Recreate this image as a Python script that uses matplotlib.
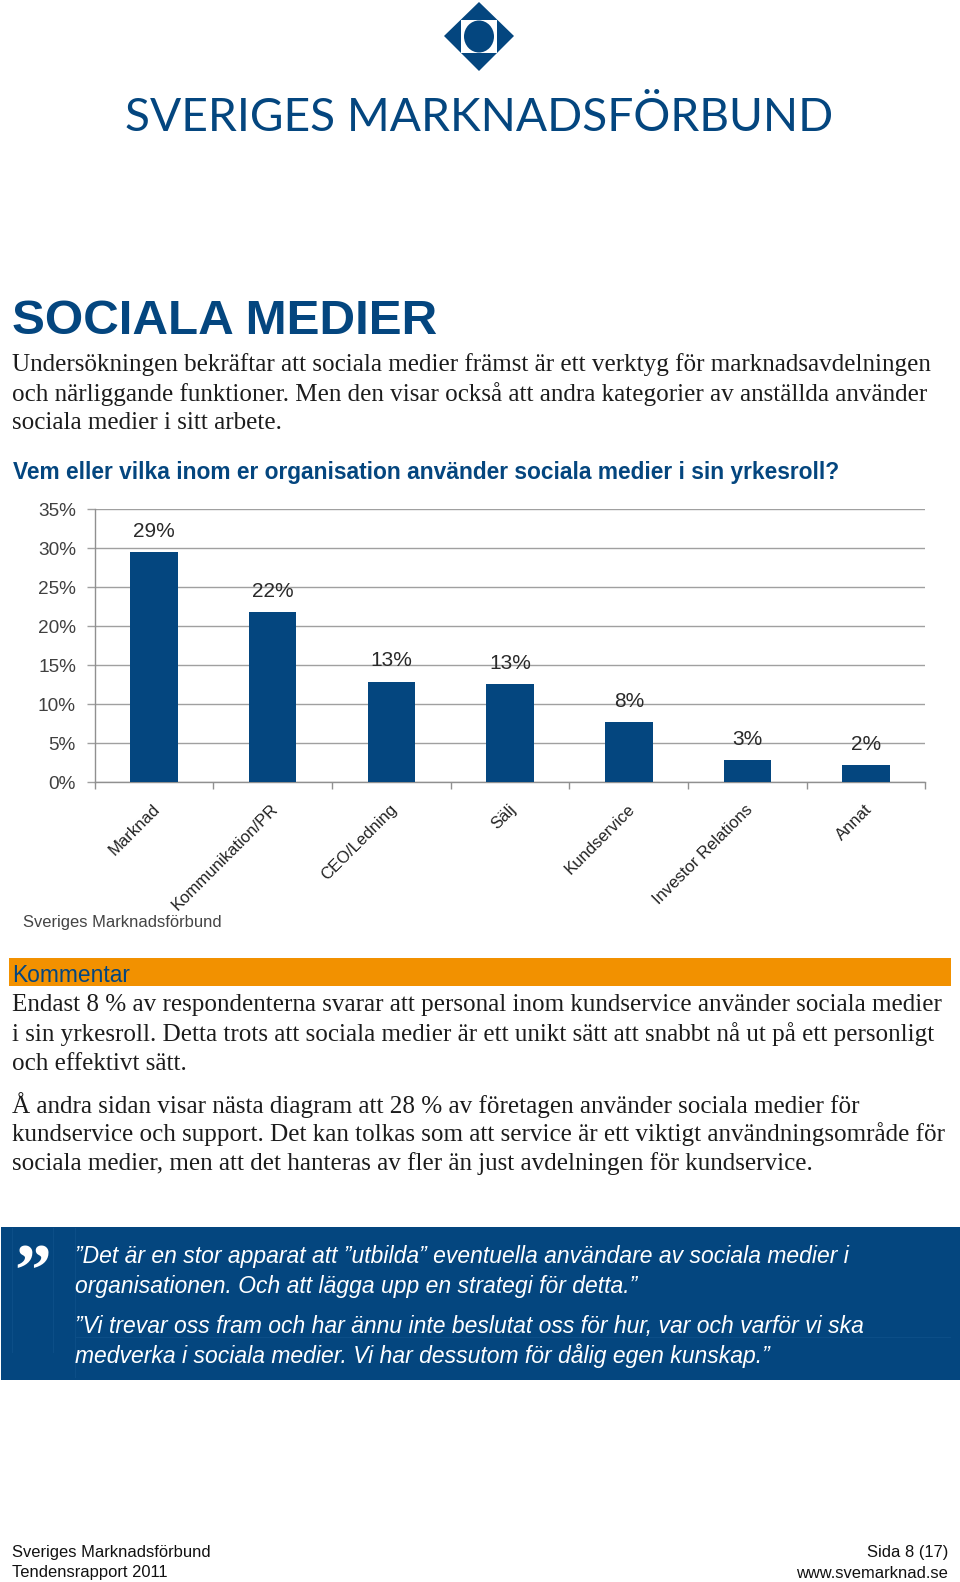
import matplotlib
matplotlib.use("Agg")
import matplotlib.pyplot as plt
from matplotlib.patches import Polygon, Rectangle, Ellipse
from matplotlib.transforms import ScaledTranslation

categories = ["Marknad", "Kommunikation/PR", "CEO/Ledning", "Sälj", "Kundservice", "Investor Relations", "Annat"]
values = [29.5, 21.8, 12.9, 12.6, 7.7, 2.9, 2.2]
value_labels = ["29%", "22%", "13%", "13%", "8%", "3%", "2%"]
y_ticks = [0, 5, 10, 15, 20, 25, 30, 35]
y_tick_labels = ["0%", "5%", "10%", "15%", "20%", "25%", "30%", "35%"]
body_top = ["Undersökningen bekräftar att sociala medier främst är ett verktyg för marknadsavdelningen",
            "och närliggande funktioner. Men den visar också att andra kategorier av anställda använder",
            "sociala medier i sitt arbete."]
comment = ["Endast 8 % av respondenterna svarar att personal inom kundservice använder sociala medier",
           "i sin yrkesroll. Detta trots att sociala medier är ett unikt sätt att snabbt nå ut på ett personligt",
           "och effektivt sätt.",
           "Å andra sidan visar nästa diagram att 28 % av företagen använder sociala medier för",
           "kundservice och support. Det kan tolkas som att service är ett viktigt användningsområde för",
           "sociala medier, men att det hanteras av fler än just avdelningen för kundservice."]
quotes = ["”Det är en stor apparat att ”utbilda” eventuella användare av sociala medier i",
          "organisationen. Och att lägga upp en strategi för detta.”",
          "”Vi trevar oss fram och har ännu inte beslutat oss för hur, var och varför vi ska",
          "medverka i sociala medier. Vi har dessutom för dålig egen kunskap.”"]

BLUE = "#04467F"
W, H = 960, 1582
fig = plt.figure(figsize=(W / 100, H / 100), dpi=100, facecolor="white")

pg = fig.add_axes([0, 0, 1, 1], zorder=0)
pg.set_xlim(0, W); pg.set_ylim(H, 0); pg.axis("off")

# logo
pg.add_patch(Polygon([(479, 2), (514, 36), (479, 71), (444, 36)], color=BLUE, lw=0))
pg.add_patch(Rectangle((461, 20), 36, 33, fc="white", lw=0))
pg.add_patch(Ellipse((479, 36.5), 30, 32, fc=BLUE, lw=0))
pg.text(479.5, 118, "SVERIGES MARKNADSFÖRBUND", family="Lato", fontsize=33.2,
        color=BLUE, ha="center", va="center")

pg.text(12, 321, "SOCIALA MEDIER", family="Liberation Sans", weight="bold", fontsize=35.6,
        color=BLUE, ha="left", va="center")
for y, s in zip([365, 394, 423], body_top):
    pg.text(12.5, y, s, family="Liberation Serif", fontsize=18.13, color="#1c1c1c", ha="left", va="center")
pg.text(13, 473, "Vem eller vilka inom er organisation använder sociala medier i sin yrkesroll?",
        family="Liberation Sans", weight="bold", fontsize=16.4, color=BLUE, ha="left", va="center")

# comment
pg.add_patch(Rectangle((9, 958), 942, 28, fc="#F29100", lw=0))
pg.text(12, 976, "Kommentar", family="Liberation Sans", fontsize=16.4, color=BLUE, ha="left", va="center")
for y, s in zip([1005.5, 1034, 1063.5, 1105.5, 1134, 1163.5], comment):
    pg.text(12.5, y, s, family="Liberation Serif", fontsize=18.13, color="#1c1c1c", ha="left", va="center")

# quote box
pg.add_patch(Rectangle((1, 1227), 959, 153, fc=BLUE, lw=0))
for x in (12, 53, 75):
    pg.plot([x, x], [1228, 1352 if x < 75 else 1377], color="#0C4E87", lw=0.8)
pg.plot([75, 950], [1337, 1337], color="#0C4E87", lw=0.8)
pg.text(33, 1277, "”", family="Liberation Serif", weight="bold", fontsize=53, color="white",
        ha="center", va="center")
for y, s in zip([1257, 1286, 1327, 1356], quotes):
    pg.text(75, y, s, family="Liberation Sans", style="italic", fontsize=16.5, color="white",
            ha="left", va="center")

# footer
pg.text(12, 1553, "Sveriges Marknadsförbund", family="Liberation Sans", fontsize=11.85, color="#111111", va="center")
pg.text(12, 1573, "Tendensrapport 2011", family="Liberation Sans", fontsize=11.85, color="#111111", va="center")
pg.text(948, 1553, "Sida 8 (17)", family="Liberation Sans", fontsize=11.85, color="#111111", ha="right", va="center")
pg.text(948, 1573, "www.svemarknad.se", family="Liberation Sans", fontsize=11.85, color="#111111", ha="right", va="center")
pg.text(23, 922, "Sveriges Marknadsförbund", family="Liberation Sans", fontsize=11.9, color="#444444", va="center")

# chart
left, right, top, bottom = 94.7, 925.5, 509, 782.3
ax = fig.add_axes([left / W, 1 - bottom / H, (right - left) / W, (bottom - top) / H], zorder=2)
ax.patch.set_alpha(0)
x = list(range(len(categories)))
ax.set_xlim(-0.5, len(categories) - 0.5)
ax.set_ylim(0, 35)
ax.bar(x, values, width=0.4, color=BLUE, zorder=3)
ax.set_axisbelow(True)
ax.yaxis.grid(True, color="#A0A0A0", lw=1)
for s in ("top", "right"):
    ax.spines[s].set_visible(False)
for s in ("left", "bottom"):
    ax.spines[s].set_color("#909090")
    ax.spines[s].set_linewidth(1)
ax.set_yticks(y_ticks)
ax.set_yticklabels(y_tick_labels, family="Liberation Sans", fontsize=13.7, color="#404040")
ax.tick_params(axis="y", length=6, width=1, color="#A0A0A0", pad=7.5)
ax.set_xticks([i - 0.5 for i in range(len(categories) + 1)], minor=True)
ax.tick_params(axis="x", which="minor", length=5, width=1, color="#909090")
ax.set_xticks(x)
ax.set_xticklabels(categories, family="Liberation Sans", fontsize=12, color="#222222",
                   rotation=45, ha="right", rotation_mode="anchor")
ax.tick_params(axis="x", which="major", length=0, pad=14)
shift = ScaledTranslation(-2 / 100, 0, fig.dpi_scale_trans)
for lab in ax.get_xticklabels():
    lab.set_transform(lab.get_transform() + shift)
for xi, v, lab in zip(x, values, value_labels):
    ax.annotate(lab, (xi, v), xytext=(0, 8), textcoords="offset points", ha="center", va="bottom",
                family="Liberation Sans", fontsize=15, color="#2a2a2a", zorder=4)

fig.savefig("out.png", dpi=100, facecolor="white")
